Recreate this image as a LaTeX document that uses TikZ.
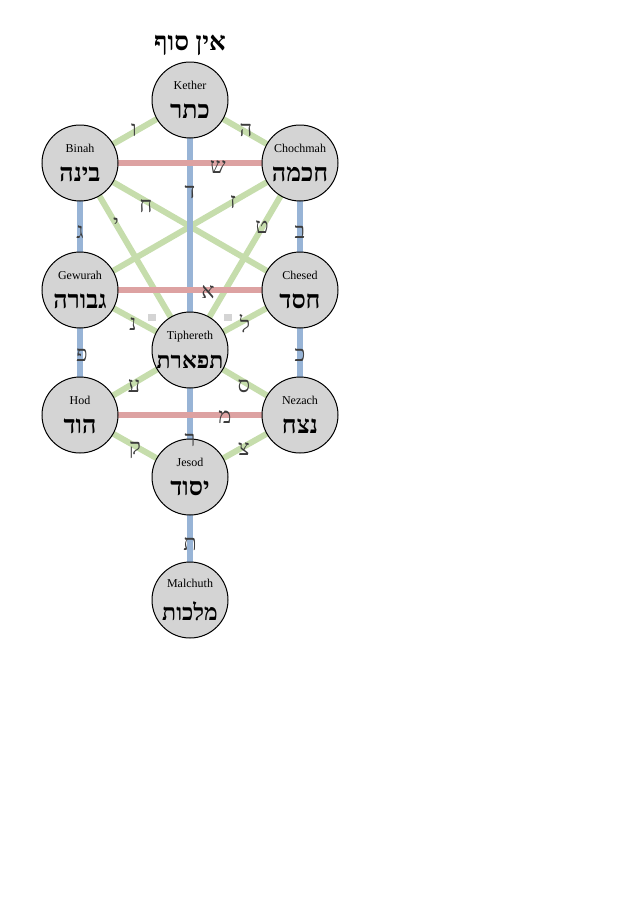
\documentclass[tikz,border=0pt]{standalone}
\usepackage{fontspec}
\setmainfont{Liberation Serif}
\newfontfamily\heb[Script=Hebrew]{Liberation Serif}
\TeXXeTstate=1
\definecolor{pg}{RGB}{198,221,172}
\definecolor{pr}{RGB}{221,162,162}
\definecolor{pb}{RGB}{152,180,214}
\definecolor{cf}{RGB}{212,212,212}
\definecolor{lt}{RGB}{60,60,60}
\begin{document}
\begin{tikzpicture}[x=1pt,y=-1pt,
 sef/.style={circle,draw=black,line width=1pt,fill=cf,minimum size=76pt,inner sep=0pt,align=center,font=\fontsize{12}{13}\selectfont},
 gp/.style={pg,line width=6pt},
 rp/.style={pr,line width=6pt},
 bp/.style={pb,line width=6pt},
 lt/.style={text=lt,font=\heb\fontsize{22}{22}\selectfont,inner sep=0pt}]
\useasboundingbox (0,0) rectangle (638,903);
\newcommand{\sefnode}[4]{\node[sef] (#1) at (#2) {\makebox[0pt]{\raisebox{2pt}{#3}}\\[11pt]\makebox[0pt]{\heb\fontsize{25}{25}\selectfont\bfseries\beginR #4\endR}};}
\coordinate (K) at (190,100); \coordinate (B) at (80,163); \coordinate (C) at (300,163);
\coordinate (G) at (80,290); \coordinate (H) at (300,290); \coordinate (T) at (190,350);
\coordinate (O) at (80,415); \coordinate (N) at (300,415); \coordinate (J) at (190,477); \coordinate (M) at (190,600);
% paths
\draw[gp] (K)--(B); \draw[gp] (K)--(C);
\draw[gp] (B)--(H); \draw[gp] (C)--(G);
\draw[gp] (B)--(T); \draw[gp] (C)--(T);
\draw[gp] (G)--(T); \draw[gp] (H)--(T);
\draw[gp] (O)--(T); \draw[gp] (N)--(T);
\draw[gp] (O)--(J); \draw[gp] (N)--(J);
\draw[bp] (B)--(G)--(O); \draw[bp] (C)--(H)--(N);
\draw[bp] (K)--(J)--(M);
\draw[rp] (B)--(C); \draw[rp] (G)--(H); \draw[rp] (O)--(N);
\fill[cf] (148,314) rectangle (156,321); \fill[cf] (224,314) rectangle (232,321);
% sephiroth
\sefnode{kether}{K}{Kether}{כתר}
\sefnode{binah}{B}{Binah}{בינה}
\sefnode{chochmah}{C}{Chochmah}{חכמה}
\sefnode{gewurah}{G}{Gewurah}{גבורה}
\sefnode{chesed}{H}{Chesed}{חסד}
\node[sef] (tiph) at (T) {\makebox[0pt]{\raisebox{2pt}{Tiphereth}}\\[11pt]\makebox[0pt]{\heb\fontsize{23}{23}\selectfont\bfseries\beginR תפארת\endR}};
\sefnode{hod}{O}{Hod}{הוד}
\sefnode{nezach}{N}{Nezach}{נצח}
\sefnode{jesod}{J}{Jesod}{יסוד}
\node[sef] (malchuth) at (M) {\makebox[0pt]{\raisebox{2pt}{Malchuth}}\\[11pt]\makebox[0pt]{\heb\fontsize{23}{23}\selectfont\bfseries\beginR מלכות\endR}};
\node[font=\heb\fontsize{26}{26}\selectfont\bfseries,inner sep=0pt] (title) at (190,45) {\beginR אין סוף\endR};
% letters
\node[lt] (l1) at (134,130) {ו};
\node[lt] (l2) at (246,130) {ה};
\node[lt] (l3) at (218,167) {ש};
\node[lt] (l4) at (190,192) {ד};
\node[lt] (l5) at (146,206) {ח};
\node[lt] (l6) at (233,202) {ז};
\node[lt] (l7) at (116,224) {י};
\node[lt] (l8) at (262,227) {ט};
\node[lt] (l9) at (80,232) {ג};
\node[lt] (l10) at (300,232) {ב};
\node[lt] (l11) at (208,292) {א};
\node[lt] (l12) at (133,324) {נ};
\node[lt] (l13) at (245,324) {ל};
\node[lt] (l14) at (82,355) {פ};
\node[lt] (l15) at (300,355) {כ};
\node[lt] (l16) at (134,386) {ע};
\node[lt] (l17) at (244,386) {ס};
\node[lt] (l18) at (225,417) {מ};
\node[lt] (l19) at (190,440) {ר};
\node[lt] (l20) at (135,450) {ק};
\node[lt] (l21) at (244,449) {צ};
\node[lt] (l22) at (190,544) {ת};
\end{tikzpicture}
\end{document}
